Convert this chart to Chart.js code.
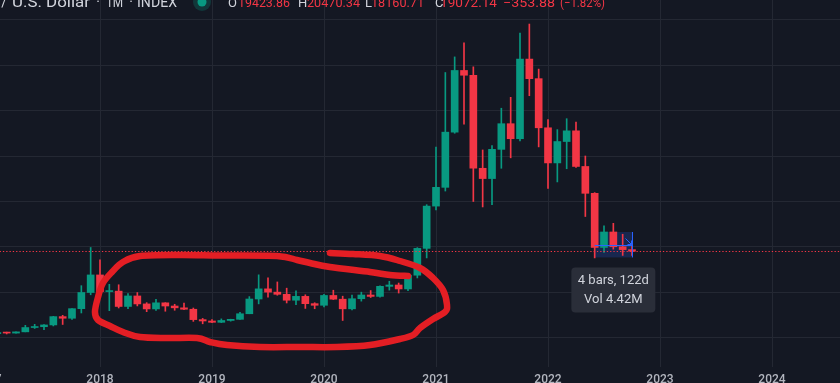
<!DOCTYPE html>
<html><head><meta charset="utf-8">
<script src="https://cdn.jsdelivr.net/npm/chart.js@4.4.1/dist/chart.umd.min.js"></script>
<style>
html,body{margin:0;padding:0;background:#141823;overflow:hidden;width:840px;height:383px;}
#wrap{position:absolute;left:-40px;top:0;width:920px;height:390px;}
canvas{display:block;}
</style></head><body>
<div id="wrap"><canvas id="c" width="920" height="390"></canvas></div>
<script>
// ---------- DATA ----------
const months = [
 '2017-01','2017-02','2017-03','2017-04','2017-05','2017-06','2017-07','2017-08','2017-09','2017-10','2017-11','2017-12',
 '2018-01','2018-02','2018-03','2018-04','2018-05','2018-06','2018-07','2018-08','2018-09','2018-10','2018-11','2018-12',
 '2019-01','2019-02','2019-03','2019-04','2019-05','2019-06','2019-07','2019-08','2019-09','2019-10','2019-11','2019-12',
 '2020-01','2020-02','2020-03','2020-04','2020-05','2020-06','2020-07','2020-08','2020-09','2020-10','2020-11','2020-12',
 '2021-01','2021-02','2021-03','2021-04','2021-05','2021-06','2021-07','2021-08','2021-09','2021-10','2021-11','2021-12',
 '2022-01','2022-02','2022-03','2022-04','2022-05','2022-06','2022-07','2022-08','2022-09','2022-10'];
const opens = [
 963,965,1190,1080,1350,2300,2480,2870,4700,4340,6450,10000,
 13860,10200,10300,6930,9240,7490,6390,7730,7030,6630,6320,4040,
 3740,3450,3850,4100,5330,8570,10800,10080,9600,8300,9150,7550,
 7190,9350,8530,6410,8630,9450,9140,11350,11650,10780,13800,19700,
 28990,33110,45240,58800,57750,37300,35040,41460,47100,43800,61300,57000,
 46200,38480,43180,45530,37700,31800,19900,23300,20050,19423.86];
const highs = [
 1190,1200,1290,1350,2790,3000,2930,4760,4980,6470,11500,19890,
 17200,11800,11700,9760,9990,7770,8500,7760,7410,7680,6590,4310,
 4070,4200,4130,5640,9100,13880,13200,12320,10950,10370,9500,7750,
 9580,10500,9190,9460,10070,10430,11440,12470,12080,14100,19860,29300,
 41950,58350,61780,64900,59600,41330,42300,50500,52900,67000,69000,59100,
 47990,45800,48200,47450,40000,31950,24650,25200,22800,20470.34];
const lows = [
 750,920,890,1060,1350,2100,1830,2650,2970,4100,5500,9500,
 9200,6000,6600,6450,7050,5780,6070,5880,6100,6200,3650,3120,
 3350,3380,3700,4070,5330,7500,9000,9400,7700,7300,6500,6430,
 6850,8450,3850,6150,8100,8900,8970,10520,9880,10380,13200,17600,
 28130,32300,45000,47000,30000,28800,29300,37300,39600,43300,53250,42000,
 32900,34300,37200,37500,26700,17600,18800,19520,18150,18160.71];
const closes = [
 965,1190,1080,1350,2300,2480,2870,4700,4340,6450,10000,13860,
 10200,10300,6930,9240,7490,6390,7730,7030,6630,6320,4040,3740,
 3450,3850,4100,5330,8570,10800,10080,9600,8300,9150,7550,7190,
 9350,8530,6410,8630,9450,9140,11350,11650,10780,13800,19700,28990,
 33110,45240,58800,57750,37300,35040,41460,47100,43800,61300,57000,46200,
 38480,43180,45530,37700,31800,19900,23300,20050,19423.86,19072.14];
const yearTicks = [0,12,24,36,48,60,72,84];          // month index of each January
const yearLabels = ['2017','2018','2019','2020','2021','2022','2023','2024'];
const priceTicks = [0,10000,20000,30000,40000,50000,60000,70000];
const lastClose = 19072.14;
const titleParts = ['Bitcoin /','U.S. Dollar','·','1M','·','INDEX'];
const ohlcKeys = ['O','H','L','C'];
const ohlcVals = ['19423.86','20470.34','18160.71','19072.14'];
const changeText = ['−353.88','(−1.82%)'];
const rangeText = ['4 bars, 122d','Vol 4.42M'];
const rangeFrom = 65, rangeTo = 69;        // month indices of the measured range
const rangeLow = 17700, rangeHigh = 23300; // price extent of the measured range box
const rangeMid = 20440;
// hand-drawn annotation loop, [month index, price]
const loopPath = [
 [36.64,18681],[39.11,18462],[42.0,18022],[44.14,16923],[46.29,15385],[47.68,13187],[48.75,10549],
 [49.18,7253],[48.96,5714],[47.68,4176],[46.29,2198],[45.54,659],[44.14,-220],[40.93,-1538],
 [37.39,-1978],[33.43,-1978],[29.14,-1978],[25.61,-1538],[23.79,-879],[22.39,0],[19.18,0],
 [16.29,220],[14.46,1319],[13.07,2637],[11.79,3956],[11.46,5714],[11.79,9011],[12.32,12088],
 [13.29,14505],[14.46,16703],[16.29,18022],[20.57,18242],[24.86,18132],[30.96,18022],
 [33.11,17143],[34.5,16484],[36.64,15604],[40.93,14505],[43.07,13846],[45.0,13626]];

// ---------- STYLE ----------
const UP = '#089981', DOWN = '#F23645', GRID = '#242833', TXT = '#D1D4DC';
const OX = 40; // canvas is shifted 40px left of the page
const X_MIN = -3, X_MAX = 95.571, Y_MIN = -6374, Y_MAX = 74286;

const idx = months.map((_, i) => i);
const colors = idx.map(i => closes[i] >= opens[i] ? UP : DOWN);
const bodies = idx.map(i => ({x: i, y: [opens[i], closes[i]]}));
const wicks = idx.map(i => ({x: i, y: [lows[i], highs[i]]}));

function smooth(ctx, pts) {
  ctx.moveTo(pts[0][0], pts[0][1]);
  for (let i = 0; i < pts.length - 1; i++) {
    const p0 = pts[i-1] || pts[i], p1 = pts[i], p2 = pts[i+1], p3 = pts[i+2] || p2;
    ctx.bezierCurveTo(p1[0] + (p2[0]-p0[0])/6, p1[1] + (p2[1]-p0[1])/6,
                      p2[0] - (p3[0]-p1[0])/6, p2[1] - (p3[1]-p1[1])/6, p2[0], p2[1]);
  }
}
function rrect(ctx, x, y, w, h, r) {
  ctx.beginPath();
  ctx.moveTo(x+r, y); ctx.lineTo(x+w-r, y); ctx.arcTo(x+w, y, x+w, y+r, r);
  ctx.lineTo(x+w, y+h-r); ctx.arcTo(x+w, y+h, x+w-r, y+h, r);
  ctx.lineTo(x+r, y+h); ctx.arcTo(x, y+h, x, y+h-r, r);
  ctx.lineTo(x, y+r); ctx.arcTo(x, y, x+r, y, r); ctx.closePath();
}
// draw text so it fills [x0, x1] horizontally
function fitText(ctx, t, x0, x1, yb) {
  const w = ctx.measureText(t).width;
  ctx.save();
  ctx.translate(x0, yb); ctx.scale((x1 - x0) / w, 1);
  ctx.textAlign = 'left'; ctx.fillText(t, 0, 0);
  ctx.restore();
}

const overlay = {
  id: 'overlay',
  beforeDatasetsDraw(chart) {
    const {ctx, scales: {x, y}} = chart;
    const x0 = x.getPixelForValue(rangeFrom), x1 = x.getPixelForValue(rangeTo);
    const y0 = y.getPixelForValue(rangeHigh), y1 = y.getPixelForValue(rangeLow);
    ctx.save();
    ctx.fillStyle = 'rgba(41,98,255,0.2)';
    ctx.fillRect(x0, y0, x1 - x0, y1 - y0);
    ctx.restore();
  },
  afterDatasetsDraw(chart) {
    const {ctx, chartArea, scales: {x, y}} = chart;
    ctx.save();
    // last price dotted line
    const py = Math.round(y.getPixelForValue(lastClose)) + 0.5;
    ctx.strokeStyle = DOWN; ctx.lineWidth = 1; ctx.setLineDash([1.3, 2]);
    ctx.beginPath(); ctx.moveTo(chartArea.left, py); ctx.lineTo(chartArea.right, py); ctx.stroke();
    ctx.setLineDash([]);
    // range tool lines
    const x0 = x.getPixelForValue(rangeFrom), x1 = Math.round(x.getPixelForValue(rangeTo)) + 0.5;
    const y0 = y.getPixelForValue(rangeHigh), y1 = y.getPixelForValue(rangeLow);
    const ym = Math.round(y.getPixelForValue(rangeMid)) + 0.5;
    ctx.strokeStyle = '#2962FF'; ctx.lineWidth = 1;
    ctx.beginPath(); ctx.moveTo(x1, y0); ctx.lineTo(x1, y1); ctx.stroke();
    ctx.beginPath(); ctx.moveTo(x0, ym); ctx.lineTo(x1, ym); ctx.stroke();
    ctx.beginPath(); ctx.moveTo(x1 - 7, ym - 7); ctx.lineTo(x1 - 1, ym - 1);
    ctx.moveTo(x1 - 1, ym - 5); ctx.lineTo(x1 - 1, ym - 1); ctx.lineTo(x1 - 5, ym - 1); ctx.stroke();
    // tooltip
    const cx = (x.getPixelForValue(rangeFrom) + x.getPixelForValue(rangeTo)) / 2;
    const tw = 84, th = 45, ty = y1 + 10;
    ctx.fillStyle = '#2A2E39';
    rrect(ctx, cx - tw/2, ty, tw, th, 4); ctx.fill();
    ctx.fillStyle = TXT; ctx.font = '13px Roboto'; ctx.textAlign = 'center'; ctx.textBaseline = 'alphabetic';
    ctx.fillText(rangeText[0], cx, ty + 17);
    ctx.fillText(rangeText[1], cx, ty + 36);
    // hand-drawn loop
    const pts = loopPath.map(p => [x.getPixelForValue(p[0]), y.getPixelForValue(p[1])]);
    ctx.strokeStyle = '#E31E24'; ctx.lineWidth = 6.5; ctx.lineCap = 'round'; ctx.lineJoin = 'round';
    ctx.beginPath(); smooth(ctx, pts); ctx.stroke();
    // header legend
    const B = 7;
    ctx.textBaseline = 'alphabetic'; ctx.font = '14px Roboto'; ctx.fillStyle = TXT;
    ctx.textAlign = 'right'; ctx.fillText(titleParts[0], OX + 7, B);
    fitText(ctx, titleParts[1], OX + 12, OX + 90, B);
    ctx.textAlign = 'center';
    ctx.fillText(titleParts[2], OX + 98, B);
    ctx.fillText(titleParts[4], OX + 131, B);
    fitText(ctx, titleParts[3], OX + 106, OX + 123, B);
    fitText(ctx, titleParts[5], OX + 137, OX + 177, B);
    ctx.fillStyle = 'rgba(8,153,129,0.25)';
    ctx.beginPath(); ctx.arc(OX + 202, 2, 9, 0, Math.PI*2); ctx.fill();
    ctx.fillStyle = UP;
    ctx.beginPath(); ctx.arc(OX + 202, 2, 4.5, 0, Math.PI*2); ctx.fill();
    ctx.font = '13px Roboto';
    const keyX = [228, 298, 365, 435], valX = [238, 307, 371, 440], valEnd = [290, 360, 424, 497];
    ohlcKeys.forEach((k, i) => {
      ctx.fillStyle = TXT; ctx.textAlign = 'left'; ctx.fillText(k, OX + keyX[i], B);
      ctx.fillStyle = DOWN; fitText(ctx, ohlcVals[i], OX + valX[i], OX + valEnd[i], B);
    });
    ctx.fillStyle = DOWN;
    fitText(ctx, changeText[0], OX + 503, OX + 555, B);
    fitText(ctx, changeText[1], OX + 560, OX + 605, B);
    ctx.restore();
  }
};

new Chart(document.getElementById('c'), {
  type: 'bar',
  data: {
    datasets: [
      {data: bodies, backgroundColor: colors, barThickness: 7, grouped: false, minBarLength: 1, borderWidth: 0},
      {data: wicks, backgroundColor: colors, barThickness: 1, grouped: false, borderWidth: 0}
    ]
  },
  options: {
    responsive: false, animation: false, devicePixelRatio: 1, events: [],
    layout: {padding: 0},
    plugins: {legend: {display: false}, tooltip: {enabled: false}},
    scales: {
      x: {
        type: 'linear', min: X_MIN, max: X_MAX, offset: false,
        grid: {color: GRID, drawTicks: false, offset: false},
        border: {display: false},
        afterBuildTicks: s => { s.ticks = yearTicks.map(v => ({value: v})); },
        afterFit: s => { s.height = 23; },
        ticks: {color: '#B2B5BE', font: {family: 'Roboto', size: 12, weight: '500'}, padding: 6,
                maxRotation: 0, autoSkip: false,
                callback: v => { const k = yearTicks.indexOf(v); return k >= 0 ? yearLabels[k] : ''; }}
      },
      y: {
        type: 'linear', min: Y_MIN, max: Y_MAX, position: 'right',
        grid: {color: GRID, drawTicks: false},
        border: {display: false},
        afterBuildTicks: s => { s.ticks = priceTicks.map(v => ({value: v})); },
        ticks: {display: false}
      }
    }
  },
  plugins: [overlay]
});
</script>
</body></html>
